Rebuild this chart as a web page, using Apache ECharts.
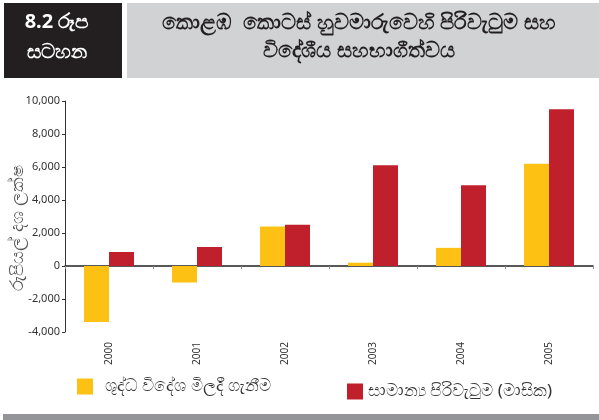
<!DOCTYPE html>
<html><head><meta charset="utf-8">
<script src="https://cdn.jsdelivr.net/npm/echarts@6/dist/echarts.min.js"></script>
<style>html,body{margin:0;padding:0;background:#fff}#c{width:599px;height:420px}</style>
</head><body><div id="c"></div>
<script>
const categories = ['2000','2001','2002','2003','2004','2005'];
const netForeignPurchases = [-3400, -1000, 2400, 200, 1100, 6200];
const avgTurnoverMonthly = [850, 1150, 2500, 6100, 4900, 9500];
const seriesNames = ['ශුද්ධ විදේශ මිලදී ගැනීම', 'සාමාන්‍ය පිරිවැටුම (මාසික)'];
const yTicks = {min: -4000, max: 10000, interval: 2000};
const titleLines = ['කොළඹ  කොටස් හුවමාරුවෙහි පිරිවැටුම සහ', 'විදේශීය සහභාගීත්වය'];
const chartLabel = ['8.2 රූප', 'සටහන'];
const yName = 'රුපියල් දශ ලක්ෂ';

const font = "'Noto Sans', 'DejaVu Sans', sans-serif";
const chart = echarts.init(document.getElementById('c'));
chart.setOption({
  animation: false,
  textStyle: {fontFamily: font},
  grid: {left: 65, right: 6, top: 101, bottom: 88, containLabel: false},
  legend: [
    {left: 77, top: 378, padding: 0, itemWidth: 16, itemHeight: 16, icon: 'rect', data: [seriesNames[0]],
     textStyle: {fontSize: 17, color: '#333', padding: [0, 0, 0, 7], fontFamily: font}},
    {left: 347, top: 383, padding: 0, itemWidth: 16, itemHeight: 16, icon: 'rect', data: [seriesNames[1]],
     textStyle: {fontSize: 17, color: '#333', fontFamily: font}}
  ],
  xAxis: [
    {type: 'category', data: categories, position: 'bottom',
     axisLine: {show: false, onZero: false}, axisTick: {show: false},
     axisLabel: {rotate: 90, fontSize: 10, color: '#333', margin: 10}},
    {type: 'category', data: categories, position: 'bottom',
     axisLine: {show: true, onZero: true, lineStyle: {color: '#222', width: 1.5}},
     axisTick: {show: true, length: 3, lineStyle: {color: '#888'}},
     axisLabel: {show: false}}
  ],
  yAxis: {
    type: 'value', min: yTicks.min, max: yTicks.max, interval: yTicks.interval,
    axisLine: {show: true, lineStyle: {color: '#333'}},
    axisTick: {show: true, length: 3, lineStyle: {color: '#333'}},
    splitLine: {show: false},
    axisLabel: {fontSize: 11, color: '#333', margin: 5,
      formatter: v => v.toLocaleString('en-US')}
  },
  series: [
    {name: seriesNames[0], type: 'bar', data: netForeignPurchases, barWidth: 25, barGap: '0%',
     itemStyle: {color: '#FDC113'}},
    {name: seriesNames[1], type: 'bar', data: avgTurnoverMonthly, barWidth: 25, barGap: '0%',
     itemStyle: {color: '#C0202B'}}
  ],
  graphic: [
    {type: 'rect', shape: {x: 4, y: 3, width: 118, height: 75}, style: {fill: '#231F20'}},
    {type: 'rect', shape: {x: 127, y: 3, width: 472, height: 75}, style: {fill: '#D1D2D4'}},
    {type: 'text', x: 57, y: 22, style: {text: chartLabel[0], fill: '#fff', font: 'bold 20px ' + font, align: 'center', verticalAlign: 'middle'}},
    {type: 'text', x: 57, y: 52, style: {text: chartLabel[1], fill: '#fff', font: 'bold 20px ' + font, align: 'center', verticalAlign: 'middle'}},
    {type: 'text', x: 359, y: 23, style: {text: titleLines[0], fill: '#231F20', font: 'bold 21px ' + font, align: 'center', verticalAlign: 'middle'}},
    {type: 'text', x: 359, y: 51, style: {text: titleLines[1], fill: '#231F20', font: 'bold 21px ' + font, align: 'center', verticalAlign: 'middle'}},
    {type: 'text', x: 18, y: 228, rotation: Math.PI / 2, style: {text: yName, fill: '#555', font: '18px ' + font, align: 'center', verticalAlign: 'middle'}},
    {type: 'rect', shape: {x: 3, y: 414, width: 596, height: 6}, style: {fill: '#939598'}}
  ]
});
</script></body></html>
